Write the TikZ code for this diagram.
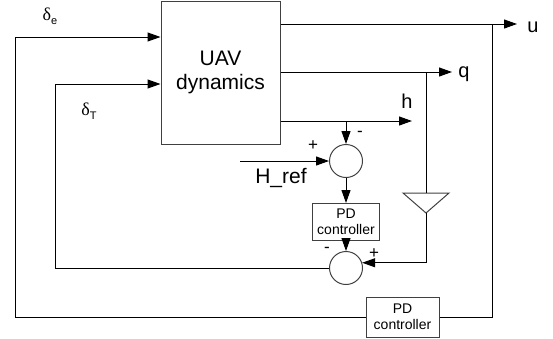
\documentclass[tikz,border=0pt]{standalone}
\usepackage{fontspec}
\setmainfont{Liberation Sans}
\newfontfamily\grk{Liberation Serif}
\usetikzlibrary{arrows.meta}

\begin{document}
\begin{tikzpicture}[
  x=1pt, y=-1pt,
  font=\fontsize{14}{16}\selectfont,
  blk/.style={draw=black!75, line width=1pt, align=center, inner sep=1pt},
  sumc/.style={draw=black!75, line width=1pt, circle, minimum size=33pt, inner sep=0pt},
  sig/.style={draw=black, line width=1pt},
  arr/.style={sig, -{Triangle[length=13pt, width=9pt]}},
  lbl/.style={font=\fontsize{20}{20}\selectfont, inner sep=0pt},
  dlt/.style={font=\fontsize{18}{18}\selectfont\grk, inner sep=0pt},
  sgn/.style={font=\fontsize{17}{17}\selectfont, inner sep=0pt}
]
\useasboundingbox (0,0) rectangle (553,338);

% blocks
\node[blk, minimum width=119pt, minimum height=143pt,
      font=\fontsize{21}{24}\selectfont] (uav) at (220.5,72.5) {UAV\\dynamics};
\node[sumc] (sum1) at (346,161) {};
\node[blk, minimum width=67pt, minimum height=37pt] (pd1) at (346,222) {PD\\controller};
\node[sumc] (sum2) at (346,268) {};
\node[blk, minimum width=73pt, minimum height=40pt] (pd2) at (402.5,317) {PD\\controller};

% free ends and corners
\coordinate (uout) at (517,24);
\coordinate (qout) at (452,72);
\coordinate (hout) at (412,121);
\coordinate (href) at (240,161);
\coordinate (ujoin) at (492,24);
\coordinate (inner) at (55,84);
\coordinate (outer) at (15,37);
\coordinate (gtop) at (426,193);
\coordinate (gtip) at (426,213);

% gain
\draw[draw=black!75, line width=1pt] (403,193) -- (449,193) -- (gtip) -- cycle;

% outputs
\draw[arr] (uav.east |- uout) -- (uout);
\draw[arr] (uav.east |- qout) -- (qout);
\draw[arr] (uav.east |- hout) -- (hout);

% altitude loop
\draw[arr] (sum1.north |- hout) -- (sum1.north);
\draw[arr] (href) -- (sum1.west);
\draw[arr] (sum1) -- (pd1);
\draw[arr] (pd1) -- (sum2);
\draw[sig] (gtop |- qout) -- (gtop);
\draw[arr] (gtip) |- (sum2.18);
\draw[arr] (sum2.west) -| (inner) -- (inner -| uav.west);

% speed loop
\draw[sig] (pd2.east) -| (ujoin);
\draw[arr] (pd2.west) -| (outer) -- (outer -| uav.west);

% labels
\node[lbl] (ulbl) at (533,27) {u};
\node[lbl] (qlbl) at (464,74) {q};
\node[lbl] (hlbl) at (407,101) {h};
\node[lbl, font=\fontsize{21}{21}\selectfont] (hreflbl) at (281,178) {H\_ref};
\node[dlt] (delbl) at (50,16) {δ\raisebox{-4pt}{\fontsize{11}{11}\selectfont\rmfamily e}};
\node[dlt] (dtlbl) at (89,111) {δ\raisebox{-4pt}{\fontsize{11}{11}\selectfont\rmfamily T}};
\node[sgn] (p1) at (313,146) {+};
\node[sgn] (m1) at (360,134) {-};
\node[sgn] (m2) at (327,250) {-};
\node[sgn] (p2) at (374,254) {+};

\end{tikzpicture}
\end{document}
